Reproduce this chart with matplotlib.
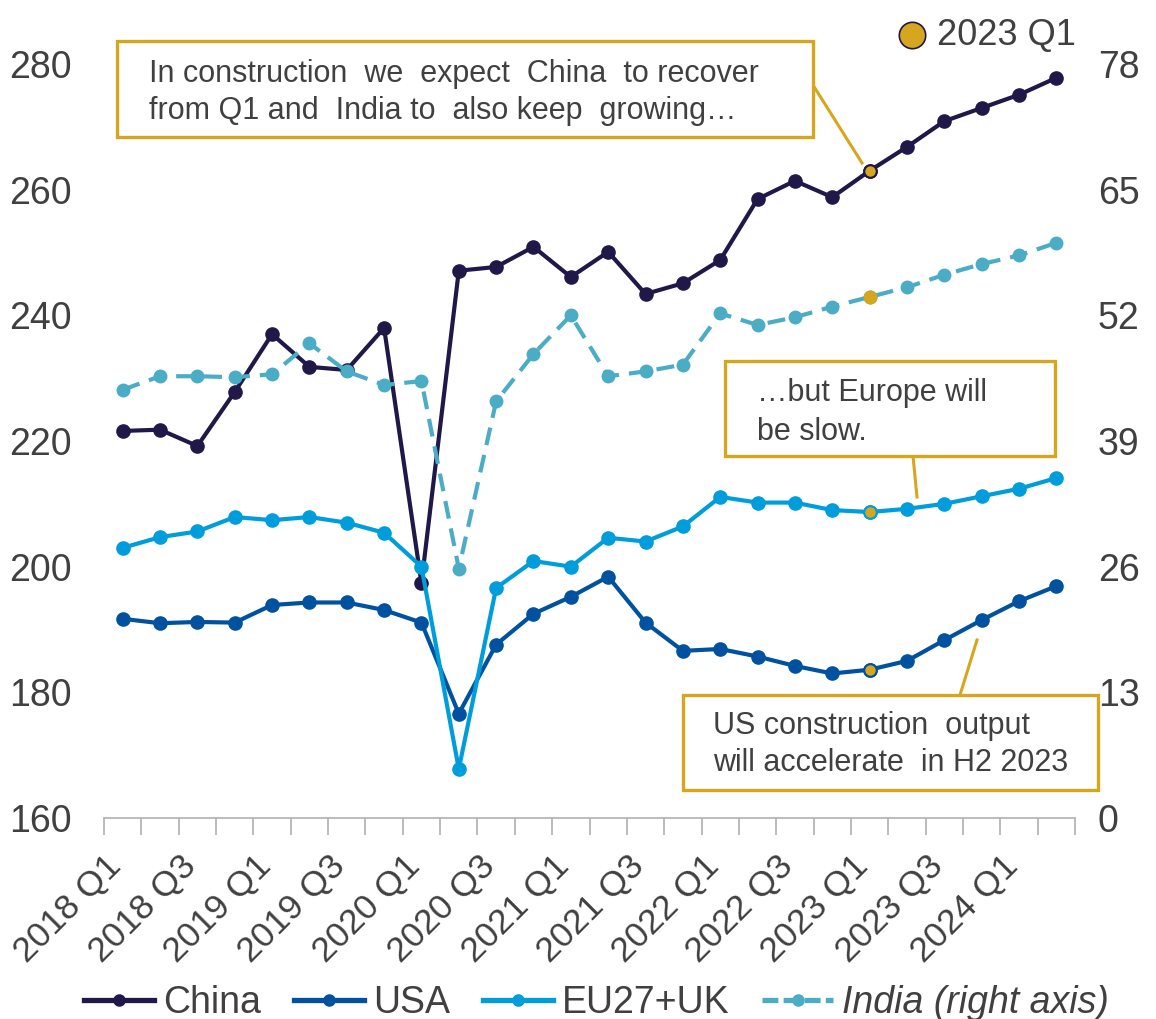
import matplotlib
matplotlib.use("Agg")
import matplotlib.pyplot as plt
import matplotlib.transforms as mtransforms
from matplotlib.lines import Line2D
import numpy as np

plt.rcParams['font.family'] = ['Liberation Sans', 'DejaVu Sans']

quarters = [f"{y} Q{q}" for y in range(2018, 2025) for q in range(1, 5)][:26]
tick_labels = [q if i % 2 == 0 else "" for i, q in enumerate(quarters)]

china = [221.6, 221.8, 219.2, 227.8, 237.0, 231.8, 231.3, 238.0, 197.4, 247.1,
         247.7, 250.9, 246.1, 250.1, 243.4, 245.1, 248.8, 258.5, 261.4, 258.8,
         263.0, 266.8, 270.9, 273.0, 275.1, 277.8]
usa = [191.7, 191.0, 191.2, 191.1, 193.9, 194.3, 194.3, 193.1, 191.1, 176.6,
       187.6, 192.5, 195.2, 198.4, 191.1, 186.6, 186.9, 185.7, 184.2, 183.0,
       183.6, 185.0, 188.3, 191.5, 194.5, 196.9]
eu_uk = [203.0, 204.7, 205.6, 207.9, 207.4, 207.9, 207.0, 205.4, 200.0, 167.8,
         196.6, 200.9, 200.0, 204.6, 204.0, 206.4, 211.1, 210.2, 210.2, 209.0,
         208.7, 209.2, 210.0, 211.2, 212.4, 214.1]
india = [44.3, 45.7, 45.7, 45.6, 45.9, 49.1, 46.2, 44.8, 45.2, 25.8,
         43.1, 48.0, 52.0, 45.7, 46.2, 46.9, 52.2, 51.0, 51.8, 52.9,
         53.9, 54.9, 56.2, 57.3, 58.2, 59.5]
highlight = "2023 Q1"

c_china = "#201848"
c_usa = "#0052A0"
c_eu = "#009DDC"
c_india = "#4BACC6"
c_gold = "#D6A61E"
c_text = "#404040"

W, H = 1156, 1019
fig = plt.figure(figsize=(W / 100, H / 100), dpi=100)
ax = fig.add_axes([104 / W, 1 - 818 / H, 971 / W, 754 / H])
ax2 = ax.twinx()

x = np.arange(len(quarters))
hi = quarters.index(highlight)

ax.plot(x, china, color=c_china, lw=3.0, marker='o', ms=9.5, zorder=4)
ax.plot(x, usa, color=c_usa, lw=3.0, marker='o', ms=9.5, zorder=4)
ax.plot(x, eu_uk, color=c_eu, lw=3.0, marker='o', ms=9.5, zorder=4)
ax2.plot(x, india, color=c_india, lw=3.0, marker='o', ms=9, ls=(0, (4.3, 2.4)), zorder=3)

for s, col in ((china, c_china), (usa, c_usa), (eu_uk, c_eu)):
    ax.plot(x[hi], s[hi], 'o', ms=9, mfc=c_gold, mec=col, mew=1.5, zorder=6)
ax2.plot(x[hi], india[hi], 'o', ms=9, mfc=c_gold, mec=c_gold, zorder=6)

ax.set_xlim(-0.5, len(quarters) - 0.5)
ax.set_ylim(160, 280)
ax2.set_ylim(0, 78)
ax.set_yticks(np.arange(160, 281, 20))
ax2.set_yticks(np.arange(0, 79, 13))

ax.set_xticks(x)
ax.set_xticklabels(tick_labels, rotation=45, ha='right', va='baseline',
                   rotation_mode='anchor', fontsize=25.5, color=c_text)
shift = mtransforms.ScaledTranslation(9 / 100, 0, fig.dpi_scale_trans)
for lab in ax.get_xticklabels():
    lab.set_transform(lab.get_transform() + shift)
ax.set_xticks(np.arange(-0.5, len(quarters), 1), minor=True)
ax.tick_params(axis='x', which='major', length=0, pad=36)
ax.tick_params(axis='x', which='minor', length=12, color='#B0B0B0', width=1.2)
ax.tick_params(axis='y', length=0, labelsize=27, labelcolor=c_text, pad=23)
ax2.tick_params(axis='y', length=0, labelsize=27, labelcolor=c_text, pad=16.5)

for a in (ax, ax2):
    for sp in ('top', 'left', 'right'):
        a.spines[sp].set_visible(False)
ax2.spines['bottom'].set_visible(False)
ax.spines['bottom'].set_color('#B0B0B0')
ax.spines['bottom'].set_linewidth(1.2)


def fx(px):
    return px / W


def fy(py):
    return 1 - py / H


# Commentary boxes: each line placed on its own baseline
def note(lines, box, left, baselines):
    x0, y0, x1, y1 = box
    fig.patches.append(plt.Rectangle((fx(x0), fy(y1)), fx(x1 - x0), (y1 - y0) / H,
                                     transform=fig.transFigure, fill=True, fc='white',
                                     ec=c_gold, lw=2.4, zorder=5))
    for line, b in zip(lines, baselines):
        fig.text(fx(left), fy(b), line, fontsize=22, color=c_text,
                 va='baseline', ha='left', zorder=6)


note(["In construction  we  expect  China  to recover",
      "from Q1 and  India to  also keep  growing…"],
     (117, 41, 813, 137), 149, (82, 118.5))
note(["…but Europe will", "be slow."], (725, 361, 1055, 456), 757, (401.5, 440))
note(["US construction  output", "will accelerate  in H2 2023"],
     (683, 695, 1098, 790), 713, (734, 771))

leaders = [((813, 85), (862, 163)), ((913, 456), (917, 497)), ((960, 695), (977, 640))]
for (a0, b0), (a1, b1) in leaders:
    fig.add_artist(Line2D([fx(a0), fx(a1)], [fy(b0), fy(b1)],
                          transform=fig.transFigure, color=c_gold, lw=2.2, zorder=4))

# Marker key for the highlighted quarter
fig.add_artist(Line2D([fx(912)], [fy(35)], transform=fig.transFigure, marker='o',
                      ms=19, mfc=c_gold, mec=c_china, mew=1.2, ls='none'))
fig.text(fx(937), fy(35), highlight, fontsize=26, color=c_text, va='center', ha='left')

handles = [
    Line2D([], [], color=c_china, lw=3.8, marker='o', ms=8),
    Line2D([], [], color=c_usa, lw=3.8, marker='o', ms=8),
    Line2D([], [], color=c_eu, lw=3.8, marker='o', ms=8),
    Line2D([], [], color=c_india, lw=3.8, marker='o', ms=8, ls=(0, (3, 1))),
]
labels = ["China", "USA", "EU27+UK", "India (right axis)"]
leg = fig.legend(handles, labels, loc='center', bbox_to_anchor=(fx(596), fy(1003)),
                 ncol=4, frameon=False, fontsize=27, handlelength=1.87, handletextpad=0.24,
                 columnspacing=0.88, borderpad=0, borderaxespad=0)
for t in leg.get_texts():
    t.set_color(c_text)
leg.get_texts()[3].set_style('italic')

fig.savefig("out.png", dpi=100)
